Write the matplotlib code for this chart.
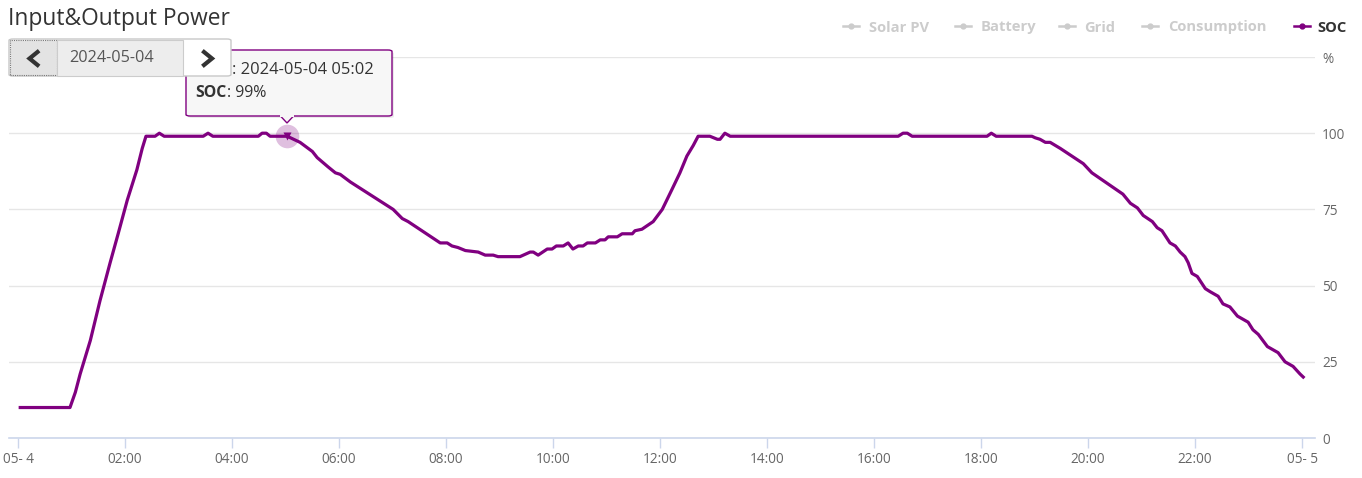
import matplotlib
matplotlib.use("Agg")
import matplotlib.pyplot as plt
from matplotlib.patches import Rectangle, FancyBboxPatch, Polygon
from matplotlib.lines import Line2D

plt.rcParams['font.family'] = ['Open Sans', 'DejaVu Sans']

# ---- data (hours since 2024-05-04 00:00, SOC %) ----
hours = [0.04, 0.97, 1.07, 1.16, 1.35, 1.53, 1.72, 1.87, 2.04, 2.22, 2.32, 2.39, 2.56, 2.64, 2.73,
         3.46, 3.55, 3.64, 4.49, 4.56, 4.64, 4.71, 5.03, 5.27, 5.50, 5.59, 5.79, 5.93, 6.02, 6.21,
         7.01, 7.18, 7.29, 7.89, 8.02, 8.11, 8.22, 8.36, 8.60, 8.73, 8.88, 8.97, 9.38, 9.57, 9.63,
         9.72, 9.89, 9.98, 10.06, 10.19, 10.28, 10.37, 10.47, 10.56, 10.64, 10.79, 10.88, 10.97,
         11.03, 11.20, 11.29, 11.48, 11.53, 11.66, 11.87, 12.04, 12.22, 12.37, 12.50, 12.62, 12.71,
         12.93, 13.07, 13.12, 13.21, 13.31, 16.45, 16.54, 16.62, 16.71, 18.11, 18.19, 18.28, 18.95,
         19.01, 19.10, 19.20, 19.29, 19.48, 19.91, 20.07, 20.65, 20.79, 20.92, 21.03, 21.20, 21.29,
         21.38, 21.53, 21.63, 21.72, 21.81, 21.87, 21.94, 22.04, 22.19, 22.28, 22.43, 22.52, 22.65,
         22.79, 22.99, 23.08, 23.18, 23.35, 23.55, 23.68, 23.83, 23.96, 24.02]
soc = [10, 10, 15, 21, 32, 45, 57.5, 67, 78, 88, 95, 99, 99, 100, 99,
       99, 100, 99, 99, 100, 100, 99, 99, 97, 94, 92, 89, 87, 86.5, 84,
       75, 72, 71, 64, 64, 63, 62.5, 61.5, 61, 60, 60, 59.5, 59.5, 61, 61,
       60, 62, 62, 63, 63, 64, 62, 63, 63, 64, 64, 65, 65,
       66, 66, 67, 67, 68, 68.5, 71, 75, 81.5, 87, 92.5, 96, 99,
       99, 98, 98, 100, 99, 99, 100, 100, 99, 99, 100, 99, 99,
       98.5, 98, 97, 97, 95, 90, 87, 80, 77, 75.5, 73, 71, 69,
       68, 64, 63, 61, 59.5, 57.5, 54, 53, 49, 48, 46.5, 44, 43,
       40, 38, 35.5, 34, 30, 28, 25, 23.5, 21, 20]

x_ticks = list(range(0, 25, 2))
x_labels = ['05- 4', '02:00', '04:00', '06:00', '08:00', '10:00', '12:00',
            '14:00', '16:00', '18:00', '20:00', '22:00', '05- 5']
y_ticks = [0, 25, 50, 75, 100, 125]
y_labels = ['0', '25', '50', '75', '100', '%']

legend_names = ['Solar PV', 'Battery', 'Grid', 'Consumption', 'SOC']
hover_index = 22  # 2024-05-04 05:02, SOC 99%

W, H = 1362, 478
fig = plt.figure(figsize=(W / 100, H / 100), dpi=100)
fig.patch.set_facecolor('white')


def fx(x):
    return x / W


def fy(y):
    return 1 - y / H


ax = fig.add_axes([fx(9), fy(438), fx(1315) - fx(9), fy(57) - fy(438)])
ax.set_xlim(-0.17, 24.24)
ax.set_ylim(0, 125)

purple = '#800080'
ax.plot(hours, soc, color=purple, lw=2.3, solid_joinstyle='round', zorder=3)
ax.plot(hours[hover_index], soc[hover_index], 'o', ms=17, color=purple, alpha=0.25, mec='none', zorder=4)
ax.plot(hours[hover_index], soc[hover_index], 'v', ms=6, color=purple, mec='none', zorder=5)

for s in ['top', 'right', 'left']:
    ax.spines[s].set_visible(False)
ax.spines['bottom'].set_color('#ccd6eb')
ax.spines['bottom'].set_linewidth(1.2)

ax.set_xticks(x_ticks)
ax.set_xticklabels(x_labels)
ax.tick_params(axis='x', colors='#ccd6eb', length=7.5, width=1, pad=2.5, labelcolor='#666666', labelsize=9.8)
ax.yaxis.tick_right()
ax.set_yticks(y_ticks)
ax.set_yticklabels(y_labels)
for lab in ax.get_yticklabels():
    lab.set_horizontalalignment('left')
ax.tick_params(axis='y', length=0, pad=5, labelcolor='#666666', labelsize=9.8)
ax.grid(axis='y', color='#e6e6e6', lw=1)
ax.set_axisbelow(True)

# title
fig.text(fx(8), fy(19), 'Input&Output Power', fontsize=16.4, color='#333333', va='center', ha='left')

# legend (manual, top right)
leg_sym_x = [843, 955, 1059, 1142, 1294]
leg_txt_x = [869, 981, 1084, 1168, 1317]
leg_y = 26
for i, name in enumerate(legend_names):
    col = purple if name == 'SOC' else '#cccccc'
    tcol = '#333333' if name == 'SOC' else '#cccccc'
    x0 = leg_sym_x[i]
    fig.add_artist(Line2D([fx(x0), fx(x0 + 16)], [fy(leg_y), fy(leg_y)], color=col, lw=1.8,
                          transform=fig.transFigure))
    fig.add_artist(Line2D([fx(x0 + 8)], [fy(leg_y)], marker='o', ms=3.5, color=col,
                          transform=fig.transFigure))
    fig.text(fx(leg_txt_x[i]), fy(leg_y + 5.5), name, fontsize=10.6, fontweight='bold', color=tcol,
             va='baseline', ha='left')

# tooltip
tip = FancyBboxPatch((fx(186), fy(116)), fx(392) - fx(186), fy(50) - fy(116),
                     boxstyle='round,pad=0,rounding_size=0.003', transform=fig.transFigure,
                     facecolor='#f7f7f7', edgecolor=purple, lw=1, zorder=10)
shadow = FancyBboxPatch((fx(188), fy(118)), fx(392) - fx(186), fy(50) - fy(116),
                        boxstyle='round,pad=0,rounding_size=0.003', transform=fig.transFigure,
                        facecolor='#000000', alpha=0.08, edgecolor='none', zorder=9)
fig.add_artist(shadow)
fig.add_artist(tip)
notch = Polygon([(fx(280), fy(115.5)), (fx(287), fy(123)), (fx(294), fy(115.5))], closed=False,
                transform=fig.transFigure, facecolor='#f7f7f7', edgecolor=purple, lw=1, zorder=11)
fig.add_artist(notch)
fig.add_artist(Line2D([fx(280.8), fx(293.2)], [fy(115.5), fy(115.5)], color='#f7f7f7', lw=1.5,
                      transform=fig.transFigure, zorder=11.5))
fig.text(fx(232), fy(70), ': 2024-05-04 05:02', fontsize=11.9, color='#333333', va='center',
         ha='left', zorder=12)
soc_lbl = fig.text(fx(195), fy(93), 'SOC', fontsize=11.4, fontweight='bold', color='#333333', va='center',
                   ha='left', zorder=12)
fig.canvas.draw()
bb = soc_lbl.get_window_extent()
fig.text(bb.x1 / W + 0.0002, fy(93), ': 99%', fontsize=11.4, color='#333333', va='center', ha='left', zorder=12)

# date navigation buttons
fig.add_artist(FancyBboxPatch((fx(9), fy(76)), fx(231) - fx(9), fy(39) - fy(76),
                              boxstyle='round,pad=0,rounding_size=0.003', transform=fig.transFigure,
                              facecolor='white', edgecolor='#c8c8c8', lw=1, zorder=20))
fig.add_artist(Rectangle((fx(10), fy(75)), fx(57) - fx(10), fy(40) - fy(75), transform=fig.transFigure,
                         facecolor='#e3e3e3', edgecolor='#777777', lw=0.8, ls=(0, (1, 1)), zorder=21))
fig.add_artist(Rectangle((fx(57), fy(75.5)), fx(183) - fx(57), fy(39.5) - fy(75.5), transform=fig.transFigure,
                         facecolor='#ededed', edgecolor='#cccccc', lw=0.8, zorder=21))
fig.text(fx(112), fy(58), '2024-05-04', fontsize=11.7, color='#555555', va='center', ha='center', zorder=22)
fig.add_artist(Line2D([fx(37.5), fx(29.5), fx(37.5)], [fy(52), fy(58.5), fy(65)], color='#333333', lw=3,
                      transform=fig.transFigure, zorder=22, solid_joinstyle='miter'))
fig.add_artist(Line2D([fx(204), fx(212), fx(204)], [fy(52), fy(58.5), fy(65)], color='#333333', lw=3,
                      transform=fig.transFigure, zorder=22, solid_joinstyle='miter'))

fig.savefig('out.png', dpi=100)
